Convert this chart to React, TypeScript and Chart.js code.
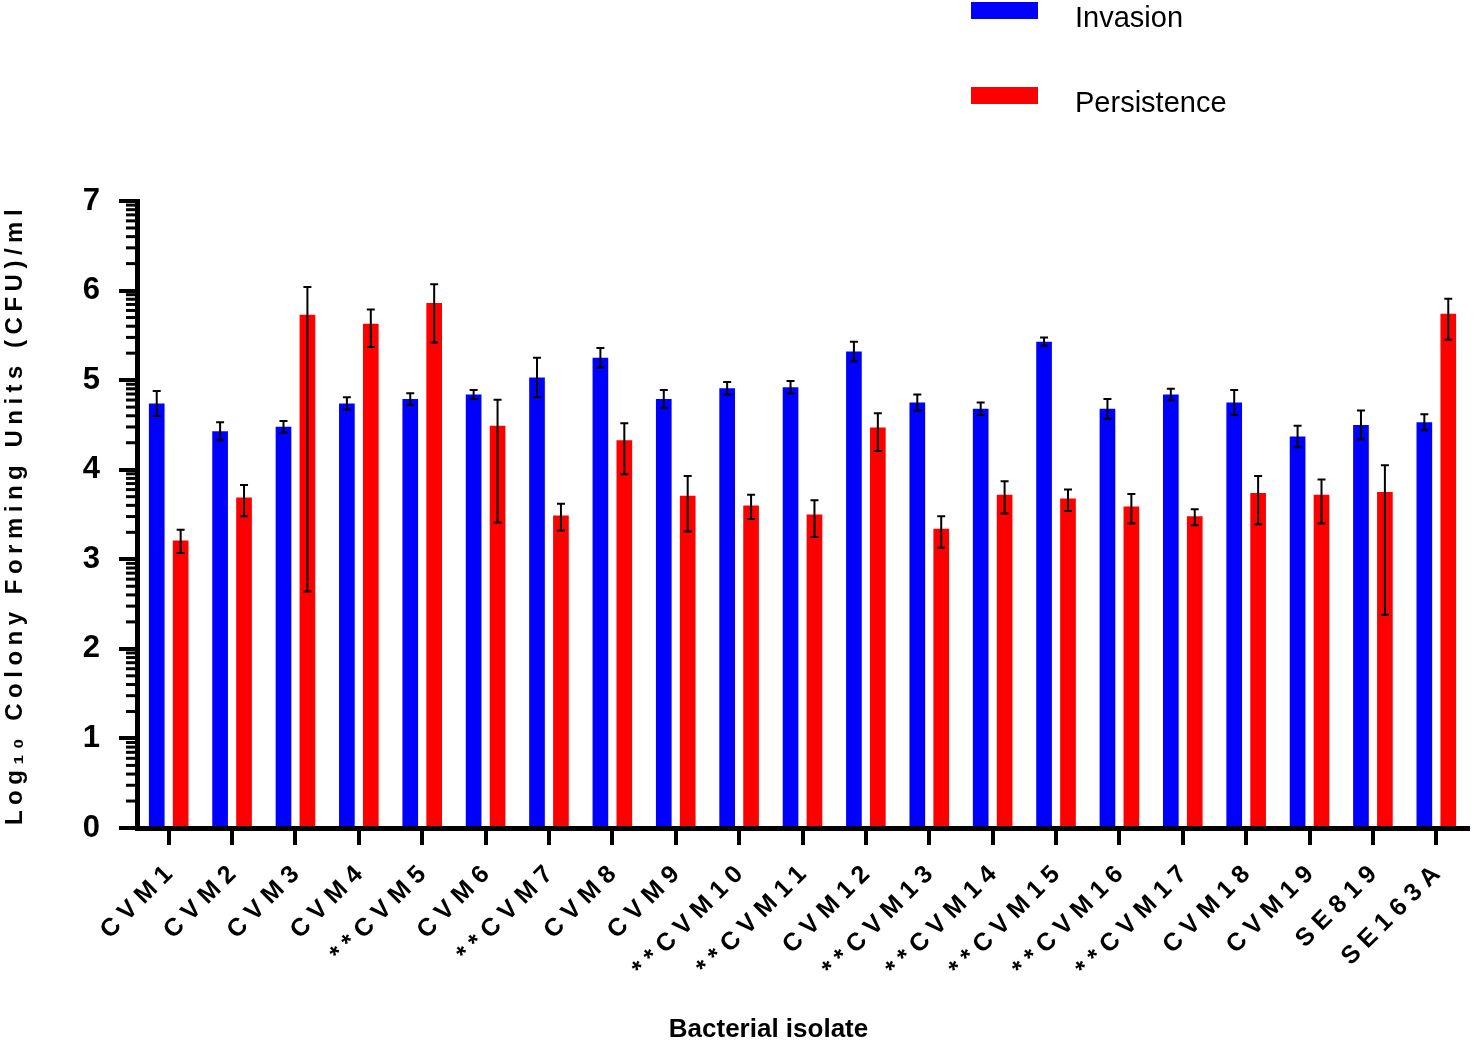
import React, { useEffect, useRef } from "react";
import { Chart, registerables } from "chart.js";

Chart.register(...registerables);

// isolates on the x axis
const isolates = [
  "CVM1", "CVM2", "CVM3", "CVM4", "**CVM5", "CVM6", "**CVM7", "CVM8", "CVM9", "**CVM10",
  "**CVM11", "CVM12", "**CVM13", "**CVM14", "**CVM15", "**CVM16", "**CVM17", "CVM18", "CVM19",
  "SE819", "SE163A",
];

// log10 CFU/ml, invasion
const invasion = [
  4.74, 4.43, 4.48, 4.74, 4.79, 4.84, 5.03, 5.25, 4.79, 4.91,
  4.92, 5.32, 4.75, 4.68, 5.43, 4.68, 4.84, 4.75, 4.37, 4.5, 4.53,
];
const invasionErr = [
  0.14, 0.1, 0.065, 0.07, 0.065, 0.05, 0.22, 0.11, 0.1, 0.07,
  0.07, 0.11, 0.09, 0.07, 0.045, 0.11, 0.065, 0.14, 0.12, 0.16, 0.09,
];

// log10 CFU/ml, persistence (error bars are not symmetric)
const persistence = [
  3.21, 3.69, 5.73, 5.63, 5.86, 4.49, 3.49, 4.33, 3.71, 3.6,
  3.5, 4.47, 3.34, 3.72, 3.68, 3.59, 3.48, 3.74, 3.72, 3.75, 5.74,
];
const persistenceErrUp = [
  0.12, 0.14, 0.31, 0.16, 0.21, 0.29, 0.13, 0.19, 0.22, 0.12,
  0.16, 0.16, 0.14, 0.15, 0.1, 0.14, 0.08, 0.19, 0.17, 0.3, 0.17,
];
const persistenceErrDown = [
  0.14, 0.21, 3.09, 0.26, 0.44, 1.08, 0.17, 0.38, 0.4, 0.15,
  0.25, 0.26, 0.21, 0.21, 0.14, 0.19, 0.1, 0.35, 0.32, 1.37, 0.29,
];

const yTicks = [0, 1, 2, 3, 4, 5, 6, 7];

const FONT = '"Liberation Sans", Arial, sans-serif';

// wrap a scale drawing method (letter spacing / small shift for its text)
const tweak = (scale: any, method: string, spacing: string, dx = 0, dy = 0) => {
  if (scale["__tw_" + method]) return;
  scale["__tw_" + method] = true;
  const orig = scale[method].bind(scale);
  scale[method] = (...args: any[]) => {
    const ctx = scale.ctx;
    ctx.save();
    ctx.letterSpacing = spacing;
    ctx.translate(dx, dy);
    orig(...args);
    ctx.restore();
  };
};

const errorBars = {
  id: "errorBars",
  afterDatasetsDraw(chart: any) {
    const { ctx } = chart;
    const y = chart.scales.y;
    chart.data.datasets.forEach((ds: any, d: number) => {
      const meta = chart.getDatasetMeta(d);
      meta.data.forEach((bar: any, i: number) => {
        const v = ds.data[i];
        const top = y.getPixelForValue(v + ds.errUp[i]);
        const bot = y.getPixelForValue(v - ds.errDown[i]);
        ctx.save();
        ctx.strokeStyle = "#000";
        ctx.lineWidth = 2;
        ctx.beginPath();
        ctx.moveTo(bar.x, top);
        ctx.lineTo(bar.x, bot);
        ctx.moveTo(bar.x - 4, top);
        ctx.lineTo(bar.x + 4, top);
        ctx.moveTo(bar.x - 4, bot);
        ctx.lineTo(bar.x + 4, bot);
        ctx.stroke();
        ctx.restore();
      });
    });
  },
};

// log-style minor ticks between the integer ticks
const minorTicks = {
  id: "minorTicks",
  afterDraw(chart: any) {
    const { ctx } = chart;
    const y = chart.scales.y;
    const x0 = chart.chartArea.left;
    ctx.save();
    ctx.strokeStyle = "#000";
    ctx.lineWidth = 3;
    for (let d = 0; d < 7; d++) {
      for (let k = 2; k <= 9; k++) {
        const py = y.getPixelForValue(d + Math.log10(k));
        ctx.beginPath();
        ctx.moveTo(x0 - 11, py);
        ctx.lineTo(x0, py);
        ctx.stroke();
      }
    }
    ctx.restore();
  },
};

const boxLegend = {
  id: "boxLegend",
  afterDraw(chart: any) {
    const { ctx } = chart;
    chart.data.datasets.forEach((ds: any, i: number) => {
      const top = 2 + i * 85;
      ctx.save();
      ctx.fillStyle = ds.backgroundColor;
      ctx.fillRect(971, top, 67, 17);
      ctx.fillStyle = "#000";
      ctx.font = `29px ${FONT}`;
      ctx.textBaseline = "alphabetic";
      ctx.fillText(ds.label, 1075, top + 25);
      ctx.restore();
    });
  },
};

const App: React.FC = () => {
  const canvasRef = useRef<HTMLCanvasElement>(null);

  useEffect(() => {
    if (!canvasRef.current) return;

    const chart = new Chart(canvasRef.current, {
      type: "bar",
      data: {
        labels: isolates,
        datasets: [
          {
            label: "Invasion",
            data: invasion,
            backgroundColor: "#0000ff",
            errUp: invasionErr,
            errDown: invasionErr,
          } as any,
          {
            label: "Persistence",
            data: persistence,
            backgroundColor: "#ff0000",
            errUp: persistenceErrUp,
            errDown: persistenceErrDown,
          } as any,
        ],
      },
      options: {
        animation: false,
        responsive: true,
        maintainAspectRatio: false,
        categoryPercentage: 0.755,
        barPercentage: 0.655,
        layout: { padding: { top: 201, right: 11, left: 0, bottom: 0 } },
        plugins: {
          legend: { display: false },
          tooltip: { enabled: false },
        },
        scales: {
          x: {
            grid: {
              offset: false,
              drawOnChartArea: false,
              tickLength: 17,
              lineWidth: 4,
              tickColor: "#000",
            },
            border: { display: true, width: 5, color: "#000" },
            ticks: {
              autoSkip: false,
              maxRotation: 45,
              minRotation: 45,
              padding: 10,
              color: "#000",
              font: { family: FONT, size: 25, weight: "bold" },
            },
            title: {
              display: true,
              text: "Bacterial isolate",
              color: "#000",
              font: { family: FONT, size: 26, weight: "bold" },
              padding: { top: 0, bottom: 5 },
            },
            afterFit: (scale: any) => {
              scale.height = 222;
              tweak(scale, "drawLabels", "7px", 5, 0);
              tweak(scale, "drawTitle", "0px", -34);
            },
          },
          y: {
            min: 0,
            max: 7,
            afterBuildTicks: (scale: any) => {
              scale.ticks = yTicks.map((v) => ({ value: v }));
            },
            grid: {
              drawOnChartArea: false,
              tickLength: 18,
              lineWidth: 4,
              tickColor: "#000",
            },
            border: { display: true, width: 5, color: "#000" },
            ticks: {
              padding: 19,
              color: "#000",
              font: { family: FONT, size: 31, weight: "bold" },
            },
            title: {
              display: true,
              text: "Log\u2081\u2080 Colony Forming Units (CFU)/ml",
              color: "#000",
              font: { family: FONT, size: 24, weight: "bold" },
              padding: { top: 1, bottom: 0 },
            },
            afterFit: (scale: any) => {
              scale.width = 137;
              tweak(scale, "drawTitle", "5.5px");
            },
          },
        },
      },
      plugins: [errorBars, minorTicks, boxLegend],
    });

    return () => {
      chart.destroy();
    };
  }, []);

  return (
    <div
      style={{
        position: "fixed",
        left: 0,
        top: 0,
        width: 1479,
        height: 1050,
        background: "#fff",
      }}
    >
      <canvas ref={canvasRef}></canvas>
    </div>
  );
};

export default App;
